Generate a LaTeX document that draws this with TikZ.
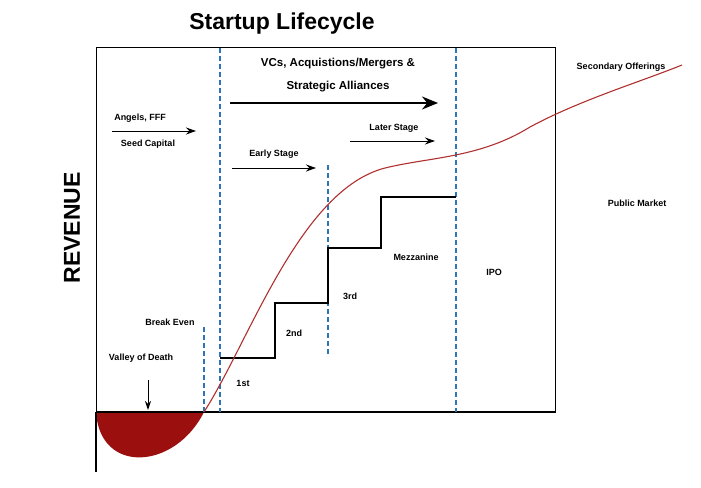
\documentclass[tikz,border=0pt]{standalone}
\usepackage{fontspec}
\setmainfont{Liberation Sans}
\usetikzlibrary{arrows.meta}
\definecolor{crv}{HTML}{B03030}
\definecolor{dk}{HTML}{9B0F0F}
\definecolor{dsh}{HTML}{2E75B6}
\begin{document}
\begin{tikzpicture}[x=1pt,y=-1pt,
 lbl/.style={font=\bfseries\fontsize{9}{11}\selectfont, inner sep=1pt},
 dl/.style={dsh, dashed, line width=1.3pt, dash pattern=on 5pt off 3pt},
 arr/.style={-{Stealth[length=10pt,width=7pt]}, line width=1pt}]
\useasboundingbox (0,0) rectangle (701,487);
\node[font=\bfseries\fontsize{23}{26}\selectfont] (title) at (282,24) {Startup Lifecycle};
\node[font=\bfseries\fontsize{23}{26}\selectfont, rotate=90] (rev) at (72,228) {REVENUE};
% valley fill
\fill[dk] (96,412) .. controls (100,475) and (175,470) .. (204,412) -- cycle;
% box and axes
\draw[line width=1pt] (96,48) rectangle (555,412);
\draw[line width=2pt] (96,412) -- (96,472);
\draw[line width=2pt] (96,412) -- (555,412);
% dashed
\draw[dl] (220,48) -- (220,412);
\draw[dl] (456,48) -- (456,412);
\draw[dl] (328,165) -- (328,355);
\draw[dl] (204,327) -- (204,412);
% stairs
\draw[line width=1.5pt] (220,358) -- (275,358) -- (275,303) -- (328,303) -- (328,248) -- (381,248) -- (381,197) -- (456,197);
% curve
\draw[crv, line width=1.1pt] (204,412) .. controls (250,340) and (300,190) .. (385,168)
 .. controls (430,157) and (480,158) .. (530,127) .. controls (580,100) and (640,82) .. (682,65);
% labels & arrows
\node[lbl] (vc1) at (338,64) {\fontsize{11.5}{13}\selectfont VCs, Acquistions/Mergers \&};
\node[lbl] (vc2) at (338,87) {\fontsize{11.5}{13}\selectfont Strategic Alliances};
\coordinate (b1) at (230,103); \coordinate (b2) at (438,103);
\draw[-{Stealth[length=16pt,width=13pt]}, line width=2pt] (b1) -- (b2);
\node[lbl] (ang) at (140,118) {Angels, FFF};
\node[lbl] (seed) at (148,144) {Seed Capital};
\coordinate (a1) at (112,131); \coordinate (a2) at (196,131);
\draw[arr] (a1) -- (a2);
\node[lbl] (early) at (274,154) {Early Stage};
\coordinate (e1) at (232,168); \coordinate (e2) at (316,168);
\draw[arr] (e1) -- (e2);
\node[lbl] (later) at (394,128) {Later Stage};
\coordinate (l1) at (350,141); \coordinate (l2) at (435,141);
\draw[arr] (l1) -- (l2);
\node[lbl] (sec) at (621,67) {Secondary Offerings};
\node[lbl] (pub) at (637,203) {Public Market};
\node[lbl] (ipo) at (494,272) {IPO};
\node[lbl] (mez) at (416,257) {Mezzanine};
\node[lbl] (r3) at (350,296) {3rd};
\node[lbl] (r2) at (294,333) {2nd};
\node[lbl] (r1) at (243,383) {1st};
\node[lbl] (be) at (170,322) {Break Even};
\node[lbl] (vod) at (141,358) {Valley of Death};
\coordinate (v2) at (148,410);
\draw[-{Stealth[length=9pt,width=6pt]}, line width=1pt] (148,380) -- (v2);
\end{tikzpicture}
\end{document}
